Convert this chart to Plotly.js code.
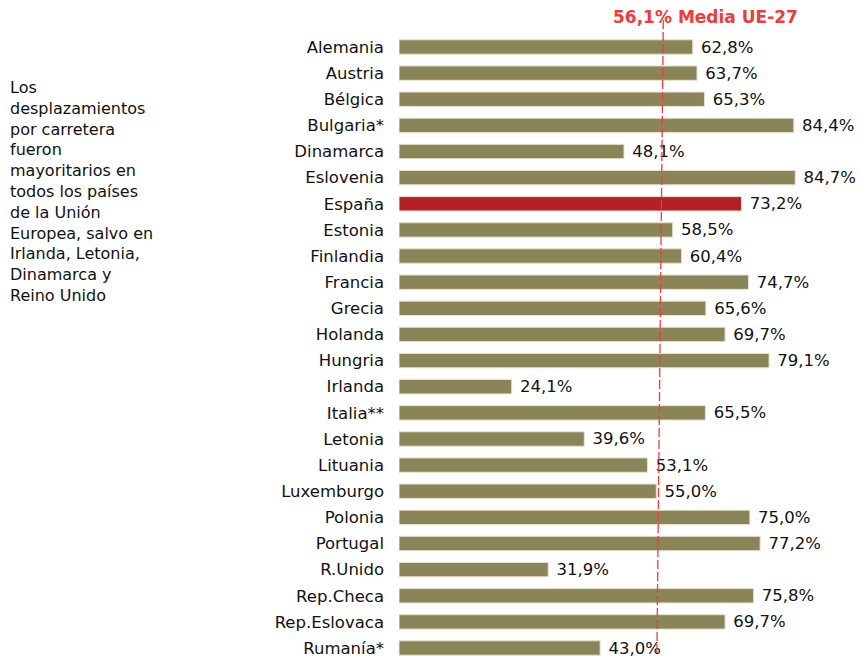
<!DOCTYPE html>
<html>
<head>
<meta charset="utf-8">
<script src="https://cdn.plot.ly/plotly-3.0.1.min.js"></script>
<style>html,body{margin:0;padding:0;background:#fff;}#chart{width:864px;height:659px;}</style>
</head>
<body>
<div id="chart"></div>
<script>
const countries = ["Alemania","Austria","Bélgica","Bulgaria*","Dinamarca","Eslovenia","España","Estonia","Finlandia","Francia","Grecia","Holanda","Hungria","Irlanda","Italia**","Letonia","Lituania","Luxemburgo","Polonia","Portugal","R.Unido","Rep.Checa","Rep.Eslovaca","Rumanía*"];
const values = [62.8,63.7,65.3,84.4,48.1,84.7,73.2,58.5,60.4,74.7,65.6,69.7,79.1,24.1,65.5,39.6,53.1,55.0,75.0,77.2,31.9,75.8,69.7,43.0];
const meanValue = 56.1;
const meanLabel = "56,1% Media UE-27";
const highlight = "España";
const sideNote = "Los<br>desplazamientos<br>por carretera<br>fueron<br>mayoritarios en<br>todos los países<br>de la Unión<br>Europea, salvo en<br>Irlanda, Letonia,<br>Dinamarca y<br>Reino Unido";

const colors = countries.map(c => c === highlight ? "#B21F24" : "#8A8459");
const idx = countries.map((c, i) => i);

const trace = {
  type: "bar",
  orientation: "h",
  x: values,
  y: idx,
  width: 0.55,
  marker: {color: colors, line: {color: "#E6E2CC", width: 1}},
  text: values.map(v => "\u00A0" + v.toFixed(1).replace(".", ",") + "%"),
  textposition: "outside",
  constraintext: "none",
  textfont: {family: "DejaVu Sans, Verdana, sans-serif", size: 16.5, color: "#111"},
  cliponaxis: false,
  hoverinfo: "none"
};

const layout = {
  width: 864, height: 659,
  margin: {l: 399, r: 0, t: 18, b: 0},
  paper_bgcolor: "#fff", plot_bgcolor: "#fff",
  showlegend: false,
  separators: ",.",
  font: {family: "DejaVu Sans, Verdana, sans-serif", size: 16, color: "#111"},
  xaxis: {range: [0, 99.4], showgrid: false, zeroline: false, showticklabels: false, showline: false, ticks: ""},
  yaxis: {
    range: [23.42, -1.11],
    tickmode: "array", tickvals: idx, ticktext: countries,
    showgrid: false, zeroline: false, showline: false, ticks: "",
    ticklabelstandoff: 14,
    tickfont: {family: "DejaVu Sans, Verdana, sans-serif", size: 16.5, color: "#111"}
  },
  shapes: [{
    type: "line", xref: "x", yref: "y",
    x0: meanValue + 0.4, y0: -1.03, x1: meanValue - 0.97, y1: 23.19,
    line: {color: "#EE3B3B", width: 1.3, dash: "9px,3px"}
  }],
  annotations: [
    {xref: "x", yref: "paper", x: meanValue, y: (659-17)/641, xanchor: "center", yanchor: "middle", xshift: 44,
     text: "<b>" + meanLabel + "</b>", showarrow: false,
     font: {family: "DejaVu Sans, Verdana, sans-serif", size: 17, color: "#EE3B3B"}},
    {xref: "paper", yref: "paper", x: (8-399)/465, y: (659-76)/641, xanchor: "left", yanchor: "top", align: "left",
     text: sideNote, showarrow: false,
     font: {family: "DejaVu Sans, Verdana, sans-serif", size: 16, color: "#111"}}
  ]
};

Plotly.newPlot("chart", [trace], layout, {staticPlot: true, displayModeBar: false});
</script>
</body>
</html>
